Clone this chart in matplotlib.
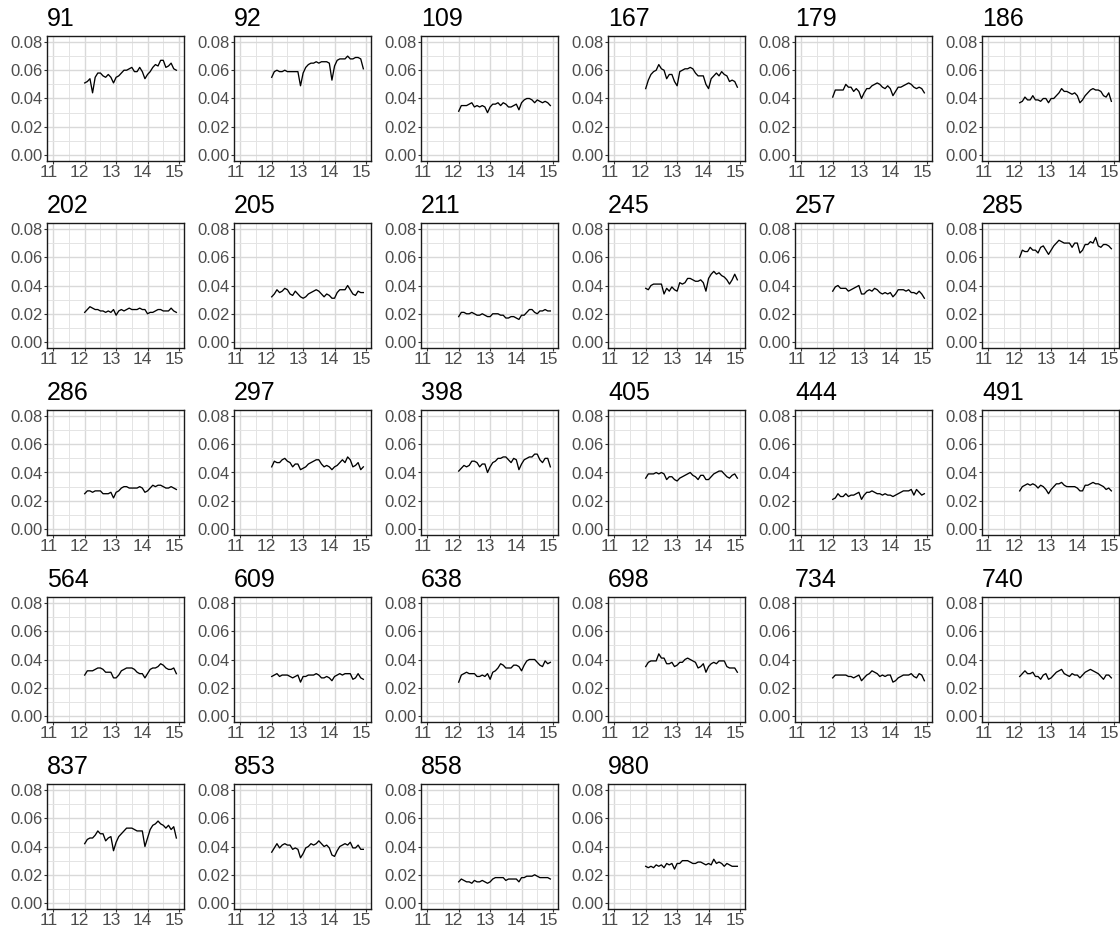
import matplotlib
matplotlib.use("Agg")
import matplotlib.pyplot as plt
import matplotlib.transforms as mtransforms
import numpy as np
from matplotlib.ticker import MultipleLocator

plt.rcParams.update({
    "font.family": ["Liberation Sans", "DejaVu Sans"],
    "axes.linewidth": 1.0,
})

# monthly time axis, 3 years starting at 12
TIME = 12 + np.arange(36) / 12

S91 = [0.051, 0.052, 0.054, 0.044, 0.055, 0.058, 0.058, 0.056, 0.055, 0.057, 0.055, 0.051,
       0.055, 0.056, 0.058, 0.060, 0.060, 0.061, 0.062, 0.059, 0.059, 0.062, 0.059, 0.054,
       0.057, 0.059, 0.062, 0.064, 0.063, 0.067, 0.067, 0.062, 0.063, 0.065, 0.061, 0.060]
S92 = [0.055, 0.059, 0.060, 0.059, 0.059, 0.060, 0.059, 0.059, 0.059, 0.059, 0.059, 0.049,
       0.058, 0.062, 0.064, 0.065, 0.065, 0.066, 0.065, 0.066, 0.066, 0.066, 0.065, 0.053,
       0.063, 0.067, 0.068, 0.068, 0.068, 0.070, 0.068, 0.068, 0.069, 0.069, 0.068, 0.061]
S109 = [0.031, 0.035, 0.035, 0.035, 0.036, 0.037, 0.034, 0.035, 0.034, 0.035, 0.034, 0.030,
        0.034, 0.036, 0.036, 0.037, 0.035, 0.037, 0.036, 0.034, 0.034, 0.035, 0.036, 0.032,
        0.037, 0.039, 0.040, 0.040, 0.039, 0.037, 0.039, 0.038, 0.037, 0.038, 0.037, 0.035]
S167 = [0.047, 0.053, 0.057, 0.059, 0.060, 0.064, 0.061, 0.060, 0.054, 0.057, 0.057, 0.052,
        0.049, 0.059, 0.060, 0.061, 0.061, 0.062, 0.061, 0.058, 0.056, 0.056, 0.056, 0.050,
        0.047, 0.054, 0.056, 0.058, 0.056, 0.059, 0.057, 0.056, 0.052, 0.053, 0.052, 0.048]
S179 = [0.041, 0.046, 0.046, 0.046, 0.046, 0.050, 0.048, 0.048, 0.045, 0.047, 0.045, 0.040,
        0.044, 0.047, 0.047, 0.049, 0.050, 0.051, 0.050, 0.048, 0.047, 0.049, 0.047, 0.042,
        0.045, 0.048, 0.048, 0.049, 0.050, 0.051, 0.050, 0.048, 0.047, 0.048, 0.047, 0.044]
S186 = [0.037, 0.038, 0.041, 0.039, 0.039, 0.042, 0.039, 0.039, 0.038, 0.040, 0.040, 0.037,
        0.040, 0.040, 0.042, 0.044, 0.047, 0.045, 0.045, 0.044, 0.043, 0.044, 0.042, 0.037,
        0.039, 0.042, 0.044, 0.046, 0.047, 0.046, 0.046, 0.045, 0.042, 0.041, 0.044, 0.038]
S202 = [0.021, 0.023, 0.025, 0.024, 0.023, 0.023, 0.022, 0.022, 0.021, 0.022, 0.021, 0.023,
        0.019, 0.022, 0.023, 0.022, 0.023, 0.024, 0.023, 0.023, 0.023, 0.024, 0.023, 0.023,
        0.020, 0.021, 0.021, 0.022, 0.023, 0.023, 0.022, 0.022, 0.022, 0.024, 0.022, 0.021]
S205 = [0.032, 0.034, 0.037, 0.035, 0.036, 0.038, 0.037, 0.034, 0.033, 0.036, 0.034, 0.032,
        0.031, 0.032, 0.034, 0.035, 0.036, 0.037, 0.036, 0.034, 0.032, 0.034, 0.033, 0.031,
        0.031, 0.035, 0.037, 0.037, 0.037, 0.040, 0.037, 0.034, 0.033, 0.036, 0.035, 0.035]
S211 = [0.018, 0.021, 0.021, 0.020, 0.020, 0.021, 0.020, 0.019, 0.019, 0.020, 0.019, 0.018,
        0.018, 0.020, 0.020, 0.020, 0.019, 0.019, 0.017, 0.017, 0.018, 0.018, 0.017, 0.016,
        0.019, 0.019, 0.021, 0.023, 0.023, 0.021, 0.020, 0.022, 0.022, 0.023, 0.022, 0.022]
S245 = [0.038, 0.037, 0.040, 0.041, 0.041, 0.041, 0.041, 0.034, 0.038, 0.036, 0.039, 0.037,
        0.036, 0.042, 0.041, 0.042, 0.045, 0.045, 0.044, 0.043, 0.043, 0.044, 0.042, 0.036,
        0.045, 0.048, 0.050, 0.048, 0.049, 0.047, 0.046, 0.044, 0.041, 0.044, 0.048, 0.044]
S257 = [0.036, 0.039, 0.040, 0.038, 0.038, 0.038, 0.036, 0.037, 0.038, 0.039, 0.040, 0.034,
        0.034, 0.036, 0.037, 0.036, 0.038, 0.037, 0.035, 0.034, 0.035, 0.034, 0.035, 0.032,
        0.034, 0.037, 0.037, 0.037, 0.036, 0.037, 0.035, 0.035, 0.034, 0.036, 0.034, 0.031]
S285 = [0.060, 0.065, 0.064, 0.064, 0.067, 0.065, 0.065, 0.063, 0.067, 0.068, 0.065, 0.062,
        0.065, 0.068, 0.070, 0.072, 0.071, 0.070, 0.070, 0.070, 0.067, 0.070, 0.070, 0.063,
        0.065, 0.069, 0.069, 0.071, 0.070, 0.074, 0.068, 0.067, 0.069, 0.069, 0.068, 0.066]
S286 = [0.025, 0.027, 0.027, 0.026, 0.027, 0.027, 0.027, 0.025, 0.025, 0.025, 0.026, 0.022,
        0.026, 0.027, 0.029, 0.030, 0.030, 0.029, 0.029, 0.029, 0.029, 0.030, 0.029, 0.026,
        0.027, 0.029, 0.031, 0.030, 0.031, 0.031, 0.030, 0.029, 0.029, 0.030, 0.029, 0.028]
S297 = [0.044, 0.048, 0.047, 0.047, 0.049, 0.050, 0.048, 0.047, 0.044, 0.046, 0.046, 0.042,
        0.043, 0.044, 0.046, 0.047, 0.048, 0.049, 0.049, 0.046, 0.044, 0.045, 0.044, 0.042,
        0.044, 0.045, 0.047, 0.049, 0.047, 0.051, 0.049, 0.044, 0.045, 0.047, 0.042, 0.044]
S398 = [0.041, 0.043, 0.045, 0.044, 0.045, 0.048, 0.048, 0.047, 0.044, 0.046, 0.046, 0.040,
        0.044, 0.047, 0.048, 0.050, 0.050, 0.051, 0.051, 0.049, 0.047, 0.050, 0.049, 0.042,
        0.046, 0.049, 0.050, 0.051, 0.051, 0.053, 0.053, 0.049, 0.047, 0.050, 0.050, 0.044]
S405 = [0.036, 0.039, 0.039, 0.039, 0.040, 0.039, 0.040, 0.039, 0.035, 0.037, 0.037, 0.035,
        0.034, 0.036, 0.037, 0.038, 0.039, 0.040, 0.038, 0.037, 0.035, 0.038, 0.038, 0.035,
        0.035, 0.037, 0.039, 0.040, 0.041, 0.041, 0.039, 0.037, 0.036, 0.038, 0.039, 0.036]
S444 = [0.021, 0.022, 0.025, 0.023, 0.023, 0.025, 0.023, 0.024, 0.024, 0.025, 0.026, 0.021,
        0.024, 0.026, 0.026, 0.027, 0.026, 0.025, 0.025, 0.024, 0.025, 0.024, 0.024, 0.023,
        0.024, 0.025, 0.026, 0.027, 0.027, 0.027, 0.028, 0.024, 0.028, 0.026, 0.024, 0.025]
S491 = [0.027, 0.030, 0.031, 0.032, 0.031, 0.032, 0.031, 0.029, 0.031, 0.030, 0.028, 0.025,
        0.028, 0.030, 0.032, 0.032, 0.033, 0.031, 0.030, 0.030, 0.030, 0.030, 0.029, 0.027,
        0.027, 0.031, 0.031, 0.032, 0.033, 0.032, 0.032, 0.031, 0.030, 0.028, 0.029, 0.027]
S564 = [0.029, 0.032, 0.032, 0.032, 0.033, 0.034, 0.034, 0.033, 0.031, 0.031, 0.031, 0.027,
        0.027, 0.029, 0.032, 0.033, 0.034, 0.034, 0.034, 0.033, 0.031, 0.030, 0.030, 0.027,
        0.030, 0.033, 0.034, 0.034, 0.035, 0.037, 0.036, 0.034, 0.033, 0.033, 0.034, 0.030]
S609 = [0.028, 0.029, 0.030, 0.028, 0.029, 0.029, 0.029, 0.028, 0.027, 0.028, 0.029, 0.024,
        0.028, 0.028, 0.029, 0.029, 0.029, 0.030, 0.029, 0.027, 0.027, 0.028, 0.027, 0.025,
        0.028, 0.029, 0.030, 0.029, 0.030, 0.030, 0.030, 0.026, 0.027, 0.030, 0.027, 0.026]
S638 = [0.024, 0.029, 0.030, 0.031, 0.030, 0.030, 0.030, 0.028, 0.028, 0.029, 0.028, 0.030,
        0.026, 0.031, 0.032, 0.034, 0.037, 0.036, 0.034, 0.034, 0.034, 0.036, 0.036, 0.035,
        0.032, 0.036, 0.039, 0.040, 0.040, 0.040, 0.038, 0.036, 0.035, 0.039, 0.037, 0.038]
S698 = [0.035, 0.038, 0.039, 0.039, 0.039, 0.044, 0.041, 0.041, 0.037, 0.037, 0.038, 0.035,
        0.036, 0.038, 0.038, 0.040, 0.041, 0.040, 0.039, 0.038, 0.034, 0.035, 0.037, 0.031,
        0.035, 0.037, 0.038, 0.037, 0.039, 0.039, 0.039, 0.035, 0.034, 0.034, 0.034, 0.031]
S734 = [0.027, 0.029, 0.029, 0.029, 0.029, 0.029, 0.028, 0.028, 0.027, 0.028, 0.029, 0.025,
        0.027, 0.029, 0.030, 0.032, 0.031, 0.030, 0.028, 0.029, 0.028, 0.029, 0.029, 0.024,
        0.025, 0.027, 0.028, 0.029, 0.029, 0.029, 0.030, 0.028, 0.027, 0.030, 0.029, 0.025]
S740 = [0.028, 0.030, 0.032, 0.030, 0.030, 0.031, 0.028, 0.028, 0.026, 0.029, 0.030, 0.026,
        0.027, 0.029, 0.031, 0.032, 0.033, 0.030, 0.029, 0.028, 0.030, 0.029, 0.029, 0.027,
        0.029, 0.031, 0.032, 0.033, 0.032, 0.031, 0.030, 0.028, 0.026, 0.029, 0.029, 0.027]
S837 = [0.042, 0.045, 0.046, 0.046, 0.048, 0.051, 0.049, 0.049, 0.044, 0.046, 0.047, 0.037,
        0.043, 0.047, 0.049, 0.051, 0.053, 0.053, 0.053, 0.052, 0.051, 0.051, 0.051, 0.040,
        0.046, 0.052, 0.055, 0.056, 0.058, 0.056, 0.055, 0.053, 0.055, 0.052, 0.054, 0.046]
S853 = [0.036, 0.039, 0.042, 0.039, 0.041, 0.042, 0.041, 0.041, 0.038, 0.039, 0.038, 0.032,
        0.035, 0.039, 0.040, 0.042, 0.041, 0.042, 0.044, 0.042, 0.040, 0.041, 0.039, 0.034,
        0.033, 0.037, 0.040, 0.041, 0.042, 0.041, 0.043, 0.039, 0.039, 0.041, 0.038, 0.038]
S858 = [0.015, 0.017, 0.016, 0.015, 0.015, 0.014, 0.016, 0.015, 0.015, 0.016, 0.015, 0.014,
        0.015, 0.017, 0.018, 0.018, 0.018, 0.018, 0.016, 0.017, 0.017, 0.017, 0.017, 0.015,
        0.018, 0.018, 0.019, 0.019, 0.019, 0.020, 0.019, 0.018, 0.018, 0.018, 0.018, 0.017]
S980 = [0.026, 0.025, 0.026, 0.025, 0.027, 0.026, 0.027, 0.025, 0.028, 0.027, 0.028, 0.024,
        0.028, 0.028, 0.030, 0.030, 0.030, 0.029, 0.028, 0.028, 0.029, 0.029, 0.028, 0.027,
        0.028, 0.027, 0.031, 0.028, 0.029, 0.028, 0.026, 0.028, 0.027, 0.026, 0.026, 0.026]

LABELS = ["91", "92", "109", "167", "179", "186",
          "202", "205", "211", "245", "257", "285",
          "286", "297", "398", "405", "444", "491",
          "564", "609", "638", "698", "734", "740",
          "837", "853", "858", "980"]
SERIES = [S91, S92, S109, S167, S179, S186,
          S202, S205, S211, S245, S257, S285,
          S286, S297, S398, S405, S444, S491,
          S564, S609, S638, S698, S734, S740,
          S837, S853, S858, S980]

W, H = 1120, 930
NCOL = 6
PW, PH = 137, 125        # panel size in px
DX, DY = 187, 187        # panel pitch in px
X0, Y0 = 47, 36          # top-left panel corner

fig = plt.figure(figsize=(W / 100, H / 100), dpi=100)
# x tick labels sit a little left of their ticks in the original
shift = mtransforms.ScaledTranslation(-0.05, 0, fig.dpi_scale_trans)

for i, (lab, vals) in enumerate(zip(LABELS, SERIES)):
    r, c = divmod(i, NCOL)
    left = X0 + c * DX
    top = Y0 + r * DY
    ax = fig.add_axes([left / W, 1 - (top + PH) / H, PW / W, PH / H])

    ax.plot(TIME, vals, color="black", lw=0.95, zorder=3)

    ax.set_xlim(10.8, 15.16)
    ax.set_ylim(-0.0042, 0.0842)
    ax.xaxis.set_minor_locator(MultipleLocator(0.5))
    ax.yaxis.set_minor_locator(MultipleLocator(0.01))
    ax.set_yticks([0.0, 0.02, 0.04, 0.06, 0.08])
    ax.set_yticklabels(["0.00", "0.02", "0.04", "0.06", "0.08"])
    ax.set_xticks([11, 12, 13, 14, 15])

    ax.grid(which="major", color="#D9D9D9", lw=1.0, zorder=0)
    ax.grid(which="minor", color="#E4E4E4", lw=0.7, zorder=0)
    ax.set_axisbelow(True)
    ax.tick_params(which="major", length=2.5, width=0.8, color="#333333",
                   labelcolor="#4D4D4D")
    ax.tick_params(axis="y", labelsize=12, pad=0.8)
    ax.tick_params(axis="x", labelsize=12.5, pad=0.3)
    ax.tick_params(which="minor", length=0)
    for t in ax.get_xticklabels():
        t.set_transform(t.get_transform() + shift)
    for sp in ax.spines.values():
        sp.set_color("#1A1A1A")
        sp.set_linewidth(1.0)

    ax.set_title(lab, loc="left", fontsize=18, pad=7, color="black")

fig.savefig("out.png", dpi=100)
